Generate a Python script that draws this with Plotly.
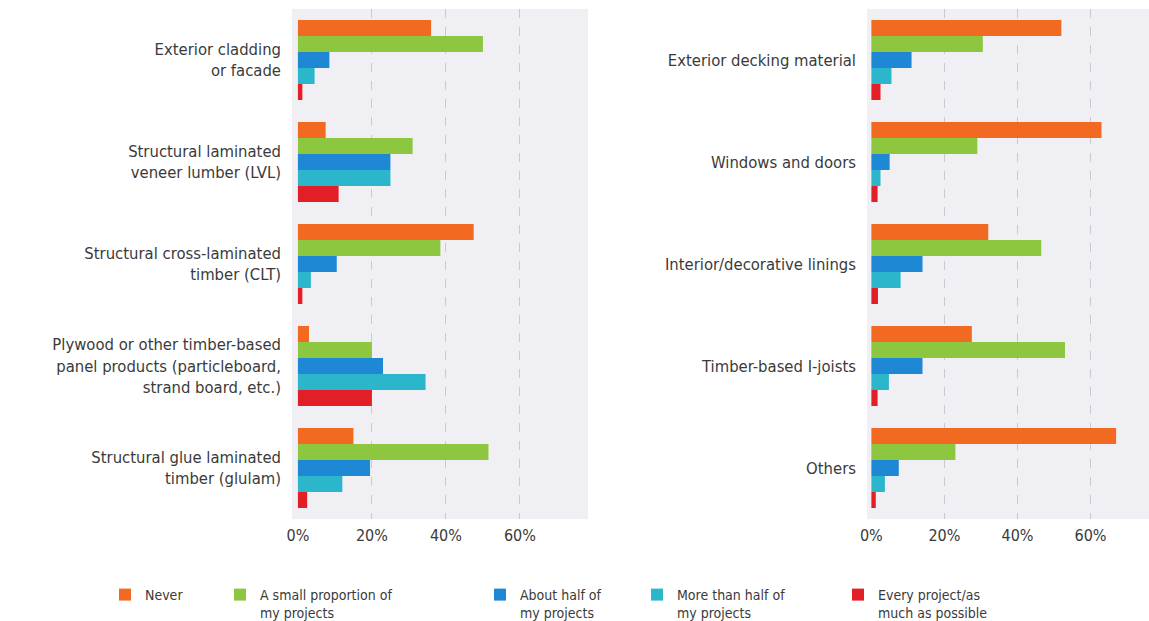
import plotly.graph_objects as go

series_names = ["Never", "A small proportion of<br>my projects", "About half of<br>my projects",
                "More than half of<br>my projects", "Every project/as<br>much as possible"]
colors = ["#f26a21", "#8dc63f", "#1f88d4", "#2bb6cb", "#e21f26"]

left_categories = ["Exterior cladding<br>or facade",
                   "Structural laminated<br>veneer lumber (LVL)",
                   "Structural cross-laminated<br>timber (CLT)",
                   "Plywood or other timber-based<br>panel products (particleboard,<br>strand board, etc.)",
                   "Structural glue laminated<br>timber (glulam)"]
right_categories = ["Exterior decking material", "Windows and doors",
                    "Interior/decorative linings", "Timber-based I-joists", "Others"]

left_never = [36, 7.5, 47.5, 3, 15]
left_small = [50, 31, 38.5, 20, 51.5]
left_half = [8.5, 25, 10.5, 23, 19.5]
left_more = [4.5, 25, 3.5, 34.5, 12]
left_every = [1.2, 11, 1.2, 20, 2.5]

right_never = [52, 63, 32, 27.5, 67]
right_small = [30.5, 29, 46.5, 53, 23]
right_half = [11, 5, 14, 14, 7.5]
right_more = [5.5, 2.5, 8, 4.8, 3.7]
right_every = [2.5, 1.7, 1.8, 1.7, 1.2]

tick_vals = [0, 20, 40, 60]
tick_text = ["0%", "20%", "40%", "60%"]
grid_vals = [20, 40, 60]

left_data = [left_never, left_small, left_half, left_more, left_every]
right_data = [right_never, right_small, right_half, right_more, right_every]

FONT = "DejaVu Sans Condensed, Liberation Sans Narrow, Roboto, sans-serif"
TXT = "#3a3a3a"

fig = go.Figure()
legend_x_px = [105, 220, 480, 637, 838]
for i in range(5):
    lg = "legend" if i == 0 else f"legend{i+1}"
    fig.add_trace(go.Bar(y=left_categories, x=left_data[i], orientation="h", name=series_names[i],
                         marker=dict(color=colors[i], line=dict(width=0)),
                         xaxis="x", yaxis="y", legend=lg))
    fig.add_trace(go.Bar(y=right_categories, x=right_data[i], orientation="h", name=series_names[i],
                         marker=dict(color=colors[i], line=dict(width=0)),
                         xaxis="x2", yaxis="y2", showlegend=False))

W, H = 1149, 621
mt, mb = 9, 102
plot_h = H - mt - mb

axis_common = dict(
    tickvals=tick_vals, ticktext=tick_text, showgrid=False, zeroline=False, showline=False,
    ticks="", tickfont=dict(family=FONT, size=16, color=TXT), ticklabelstandoff=5,
    minor=dict(tickvals=grid_vals, showgrid=True, griddash="dash", gridcolor="#c9c9cf", gridwidth=1),
    fixedrange=True, automargin=False,
)
yaxis_common = dict(
    autorange="reversed", showgrid=False, zeroline=False, showline=False, ticks="",
    tickfont=dict(family=FONT, size=16.5, color=TXT), ticklabelstandoff=10, automargin=False,
)

layout = dict(
    width=W, height=H,
    margin=dict(l=0, r=0, t=mt, b=mb, autoexpand=False),
    paper_bgcolor="white", plot_bgcolor="#f0f0f4",
    barmode="group", bargap=0.216, bargroupgap=0,
    xaxis=dict(domain=[292 / W, 588 / W], range=[-1.6, 78.4], anchor="y", **axis_common),
    xaxis2=dict(domain=[867 / W, 1.0], range=[-1.2, 76], anchor="y2", **axis_common),
    yaxis=dict(anchor="x", **yaxis_common),
    yaxis2=dict(anchor="x2", **yaxis_common),
    font=dict(family=FONT, color=TXT),
)
for i in range(5):
    key = "legend" if i == 0 else f"legend{i+1}"
    layout[key] = dict(
        orientation="h", x=legend_x_px[i] / W, y=-(579 - (H - mb)) / plot_h,
        xanchor="left", yanchor="top", bgcolor="rgba(0,0,0,0)", valign="top",
        font=dict(family=FONT, size=14, color=TXT), itemwidth=30,
    )
fig.update_layout(**layout)
fig.write_html("out.html")
